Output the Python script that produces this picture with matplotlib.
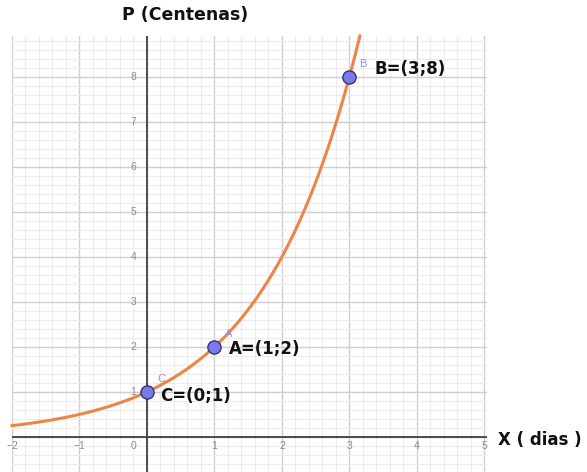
import numpy as np
import matplotlib
matplotlib.use("Agg")
import matplotlib.pyplot as plt
from matplotlib.ticker import MultipleLocator

# Data
point_names = ["C", "A", "B"]
point_x = [0, 1, 3]
point_y = [1, 2, 8]
point_labels = ["C=(0;1)", "A=(1;2)", "B=(3;8)"]
base = 2  # curve P = base ** X through the points
x_ticks = [-2, -1, 0, 1, 2, 3, 4, 5]
y_ticks = [1, 2, 3, 4, 5, 6, 7, 8]

plt.rcParams['font.family'] = ['Liberation Sans', 'DejaVu Sans']

fig = plt.figure(figsize=(5.87, 4.72), dpi=100)
ax = fig.add_axes([12/587, 0.0, 475/587, 1 - 36/472])
xmin, xmax = -2.0, 5.04
ymin, ymax = -0.78, 8.91
ax.set_xlim(xmin, xmax)
ax.set_ylim(ymin, ymax)

# grid
ax.xaxis.set_major_locator(MultipleLocator(1))
ax.yaxis.set_major_locator(MultipleLocator(1))
ax.xaxis.set_minor_locator(MultipleLocator(0.2))
ax.yaxis.set_minor_locator(MultipleLocator(0.2))
ax.grid(which='major', color='#cfcfcf', lw=1.0)
ax.grid(which='minor', color='#ececec', lw=0.8)
ax.set_axisbelow(True)
ax.tick_params(which='both', length=0, labelbottom=False, labelleft=False)
for s in ax.spines.values():
    s.set_visible(False)

# axes lines
ax.axhline(0, color='#404040', lw=1.3, zorder=2)
ax.axvline(0, color='#404040', lw=1.3, zorder=2)

# tick labels
for t in x_ticks:
    xp = -0.2 if t == 0 else t
    ax.text(xp, -0.2, str(t).replace('-', '\u2212'), ha='center', va='center',
            fontsize=7.5, color='#8a8a8a')
for t in y_ticks:
    ax.text(-0.2, t, str(t), ha='center', va='center', fontsize=7.5, color='#8a8a8a')

# curve
xs = np.linspace(xmin, np.log(ymax) / np.log(base), 400)
ax.plot(xs, base ** xs, color='#ee8446', lw=2.2, zorder=3, clip_on=False)

# points
ax.scatter(point_x, point_y, s=90, facecolor='#7b7be6', edgecolor='#333380',
           lw=1.0, zorder=4)
label_dx = [0.19, 0.21, 0.37]
label_dy = [-0.09, -0.04, 0.18]
for i, (n, x, y, lab) in enumerate(zip(point_names, point_x, point_y, point_labels)):
    ax.text(x + 0.15, y + 0.29, n, fontsize=8, color='#9a8ce8', ha='left', va='center')
    ax.text(x + label_dx[i], y + label_dy[i], lab, fontsize=12, fontweight='bold',
            color='#111111', ha='left', va='center', family='DejaVu Sans')

# axis titles
fig.text(185/587, 1 - 15/472, "P (Centenas)", fontsize=12.5, fontweight='bold',
         ha='center', va='center', color='#111111', family='DejaVu Sans')
fig.text(540/587, 1 - 440/472, "X ( dias )", fontsize=12, fontweight='bold',
         ha='center', va='center', color='#111111', family='DejaVu Sans')

fig.savefig("out.png", dpi=100)
